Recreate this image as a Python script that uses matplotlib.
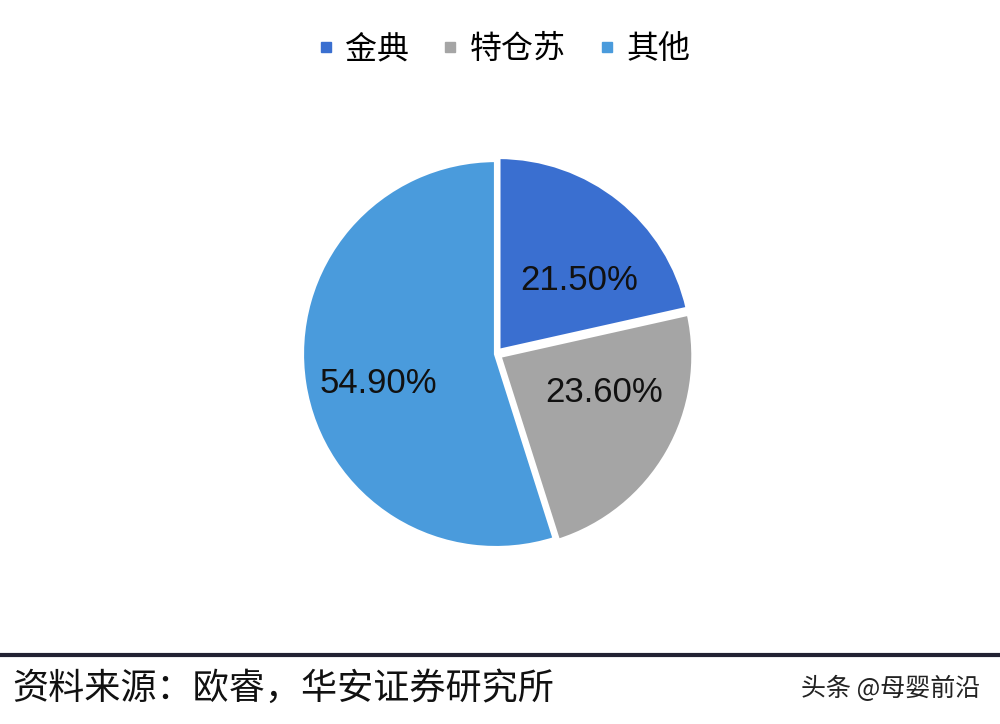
import matplotlib.pyplot as plt
from matplotlib.lines import Line2D

plt.rcParams['font.family'] = ['Noto Sans CJK SC', 'DejaVu Sans']

# Data
labels = ['金典', '特仓苏', '其他']
shares = [21.5, 23.6, 54.9]
pct_text = ['21.50%', '23.60%', '54.90%']
colors = ['#3a6fd0', '#a5a5a5', '#4a9bdc']

fig = plt.figure(figsize=(10, 7.24), dpi=100)
ax = fig.add_axes([0.302, 0.243, 0.388, 0.536])

wedges, _ = ax.pie(shares, colors=colors, startangle=90, counterclock=False,
                   explode=[0.02, 0.02, 0],
                   wedgeprops=dict(edgecolor='white', linewidth=3, clip_on=False))
ax.set_xlim(-1, 1)
ax.set_ylim(-1, 1)
ax.set_aspect('equal')
ax.axis('off')

# Percent labels
label_pos = [(0.43, 0.38), (0.555, -0.20), (-0.605, -0.15)]
for (lx, ly), t in zip(label_pos, pct_text):
    ax.text(lx, ly, t, ha='center', va='center', fontsize=25,
            family=['Liberation Sans', 'DejaVu Sans'], color='#111111')

# Legend
handles = [Line2D([], [], marker='s', linestyle='', markersize=7, color=c) for c in colors]
fig.legend(handles, labels, loc='center', bbox_to_anchor=(0.503, 0.932), ncol=3,
           frameon=False, fontsize=23, handlelength=0.6, handletextpad=0.3,
           columnspacing=1.0)

# Bottom rule and source
fig.add_artist(Line2D([0, 1], [0.095, 0.095], color='#222233', linewidth=3))
fig.text(0.012, 0.048, '资料来源：欧睿，华安证券研究所', fontsize=26, va='center', color='#111111')
fig.text(0.98, 0.048, '头条 @母婴前沿', fontsize=18, va='center', ha='right', color='#222222')

fig.savefig('out.png', dpi=100)
